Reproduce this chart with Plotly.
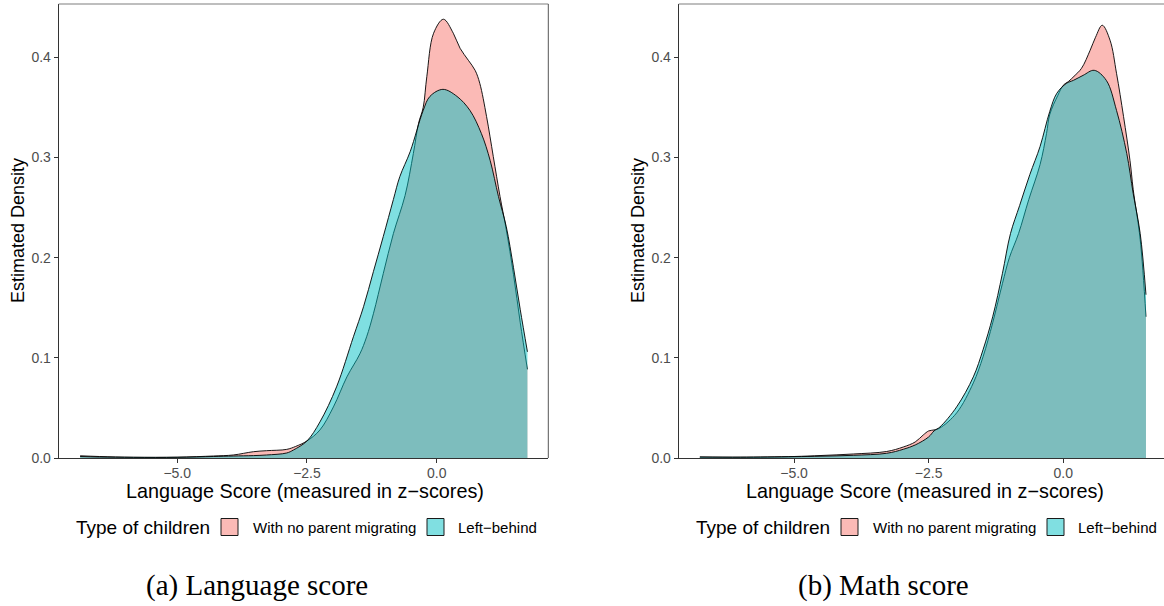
import plotly.graph_objects as go

# ---------------- data ----------------
# Panel (a): Language score
lang_x_nomig = [-6.87, -6.5, -5.84, -5.0, -4.3, -3.92, -3.53, -3.28, -2.89, -2.72, -2.5, -2.25,
                -1.99, -1.73, -1.48, -1.35, -1.22, -1.03, -0.835, -0.61, -0.45, -0.35, -0.26,
                -0.19, -0.06, 0.13, 0.32, 0.45, 0.61, 0.74, 0.83, 0.96, 1.09, 1.22, 1.34,
                1.48, 1.61, 1.748]
lang_y_nomig = [0.0022, 0.0015, 0.0007, 0.0008, 0.002, 0.003, 0.0063, 0.0073, 0.0086, 0.0115, 0.017, 0.028,
                0.051, 0.081, 0.104, 0.121, 0.144, 0.184, 0.224, 0.262, 0.304, 0.334, 0.350,
                0.381, 0.424, 0.438, 0.424, 0.409, 0.397, 0.387, 0.374, 0.341, 0.301, 0.261, 0.228,
                0.183, 0.135, 0.0885]

lang_x_left = [-6.87, -6.5, -5.84, -5.0, -4.3, -3.92, -3.53, -3.28, -2.89, -2.76, -2.5, -2.25,
               -1.93, -1.605, -1.41, -1.22, -1.03, -0.835, -0.71, -0.51, -0.26, -0.13, 0.12,
               0.39, 0.64, 0.86, 1.03, 1.19, 1.34, 1.48, 1.61, 1.748]
lang_y_left = [0.0015, 0.001, 0.0007, 0.0007, 0.0015, 0.002, 0.0024, 0.003, 0.005, 0.008, 0.017, 0.036,
               0.071, 0.121, 0.151, 0.186, 0.221, 0.258, 0.281, 0.306, 0.347, 0.361, 0.368,
               0.361, 0.347, 0.324, 0.297, 0.261, 0.231, 0.190, 0.148, 0.106]

# Panel (b): Math score
math_x_nomig = [-6.75, -6.0, -5.0, -4.5, -3.9, -3.28, -2.97, -2.75, -2.6, -2.5, -2.4, -2.29,
                -1.98, -1.67, -1.49, -1.31, -1.13, -1.0, -0.83, -0.64, -0.43, -0.31, -0.25,
                -0.1, 0.0, 0.1, 0.2, 0.34, 0.5, 0.6, 0.725, 0.87, 0.99, 1.12, 1.24, 1.3,
                1.43, 1.537]
math_y_nomig = [0.001, 0.0008, 0.0015, 0.0025, 0.004, 0.0065, 0.011, 0.016, 0.023, 0.027, 0.028, 0.030,
                0.045, 0.075, 0.101, 0.135, 0.174, 0.200, 0.224, 0.258, 0.293, 0.324, 0.343,
                0.362, 0.372, 0.376, 0.381, 0.389, 0.407, 0.420, 0.432, 0.417, 0.384, 0.341, 0.297, 0.268,
                0.218, 0.141]

math_x_left = [-6.75, -6.0, -5.0, -4.5, -3.9, -3.28, -2.97, -2.75, -2.5, -2.4, -2.29, -1.98,
               -1.67, -1.49, -1.31, -1.13, -0.98, -0.81, -0.62, -0.43, -0.25, -0.12, 0.06,
               0.19, 0.37, 0.576, 0.8, 0.99, 1.18, 1.3, 1.43, 1.537]
math_y_left = [0.001, 0.0008, 0.0013, 0.0018, 0.0027, 0.0047, 0.0087, 0.013, 0.021, 0.027, 0.031, 0.051,
               0.081, 0.108, 0.141, 0.184, 0.224, 0.252, 0.283, 0.311, 0.346, 0.364, 0.374,
               0.377, 0.382, 0.387, 0.377, 0.347, 0.304, 0.264, 0.224, 0.163]

group_names = ["With no parent migrating", "Left\u2212behind"]
legend_title = "Type of children"
x_title = "Language Score (measured in z\u2212scores)"
y_title = "Estimated Density"
captions = ["(a) Language score", "(b) Math score"]
x_ticks = [-5.0, -2.5, 0.0]
y_ticks = [0.0, 0.1, 0.2, 0.3, 0.4]

# ---------------- styling ----------------
W, H = 1164, 606
fill_cols = ["rgba(248,118,109,0.5)", "rgba(0,191,196,0.5)"]
key_cols = ["#FBBAB6", "#80DFE1"]
font_sans = "Liberation Sans, Arial, sans-serif"
font_serif = "Liberation Serif, Times New Roman, serif"


def px(x):
    return x / W


def py(y):
    return 1 - y / H


panels = [
    dict(left=58.7, right=548.3, xr=[-7.283, 2.150],
         series=[(lang_x_nomig, lang_y_nomig), (lang_x_left, lang_y_left)]),
    dict(left=678.7, right=1164.0, xr=[-7.143, 1.872],
         series=[(math_x_nomig, math_y_nomig), (math_x_left, math_y_left)]),
]
top_px, bot_px = 4.0, 458.0

fig = go.Figure()
layout = dict(template="none", width=W, height=H, margin=dict(l=0, r=0, t=0, b=0, pad=0),
              paper_bgcolor="white", plot_bgcolor="white", showlegend=False,
              font=dict(family=font_sans, color="black"))
shapes, annos = [], []

for i, p in enumerate(panels):
    xa = "x" if i == 0 else "x2"
    ya = "y" if i == 0 else "y2"
    for k, (xs, ys) in enumerate(p["series"]):
        fig.add_trace(go.Scatter(
            x=xs, y=ys, xaxis=xa, yaxis=ya, mode="lines", fill="tozeroy",
            fillcolor=fill_cols[k], line=dict(color="black", width=0.9, shape="spline", smoothing=1.0),
            name=group_names[k], hoverinfo="x+y"))
    axis_common = dict(showline=True, linecolor="#333333", linewidth=1, ticks="outside",
                       ticklen=4, tickwidth=1, tickcolor="#333333", showgrid=False, zeroline=False,
                       automargin=False,
                       tickfont=dict(family=font_sans, size=14, color="#4D4D4D"))
    layout["xaxis" if i == 0 else "xaxis2"] = dict(
        domain=[px(p["left"]), px(p["right"])], range=p["xr"], anchor=ya,
        tickvals=x_ticks, tickformat=".1f", ticklabelstandoff=-2, **axis_common)
    layout["yaxis" if i == 0 else "yaxis2"] = dict(
        domain=[py(bot_px), py(top_px)], range=[0, 0.4532], anchor=xa,
        tickvals=y_ticks, tickformat=".1f", **axis_common)

    # panel border (top and right)
    shapes.append(dict(type="line", xref="paper", yref="paper", x0=px(p["left"]), x1=px(p["right"]),
                       y0=py(top_px), y1=py(top_px), line=dict(color="#7F7F7F", width=1.2)))
    if i == 0:
        shapes.append(dict(type="line", xref="paper", yref="paper", x0=px(p["right"]), x1=px(p["right"]),
                           y0=py(top_px), y1=py(bot_px), line=dict(color="#555555", width=1)))

    off = p["left"] - 58.7
    # axis titles
    annos.append(dict(text=y_title, x=px(18 + off), y=py(231), xref="paper", yref="paper",
                      textangle=-90, showarrow=False, xanchor="center", yanchor="middle",
                      font=dict(size=18, color="black", family=font_sans)))
    annos.append(dict(text=x_title, x=px(305 + off), y=py(491), xref="paper", yref="paper",
                      showarrow=False, xanchor="center", yanchor="middle",
                      font=dict(size=19.8, color="black", family=font_sans)))
    # legend
    annos.append(dict(text=legend_title, x=px(74 + off), y=py(527), xref="paper", yref="paper",
                      showarrow=False, xanchor="left", yanchor="middle",
                      font=dict(size=19, color="black", family=font_sans)))
    key_x = [221 + off, 427 + off]
    lab_x = [251 + off, 456 + off]
    for k in range(2):
        shapes.append(dict(type="rect", xref="paper", yref="paper",
                           x0=px(key_x[k]), x1=px(key_x[k] + 17), y0=py(535.5), y1=py(518.5),
                           fillcolor=key_cols[k], line=dict(color="#1a1a1a", width=1)))
        annos.append(dict(text=group_names[k], x=px(lab_x[k]), y=py(527), xref="paper", yref="paper",
                          showarrow=False, xanchor="left", yanchor="middle",
                          font=dict(size=15, color="black", family=font_sans)))
    # caption
    annos.append(dict(text=captions[i], x=px([257, 883][i]), y=py(585), xref="paper", yref="paper",
                      showarrow=False, xanchor="center", yanchor="middle",
                      font=dict(size=29, color="black", family=font_serif)))

layout["shapes"] = shapes
layout["annotations"] = annos
fig.update_layout(**layout)
fig.write_html("out.html")
